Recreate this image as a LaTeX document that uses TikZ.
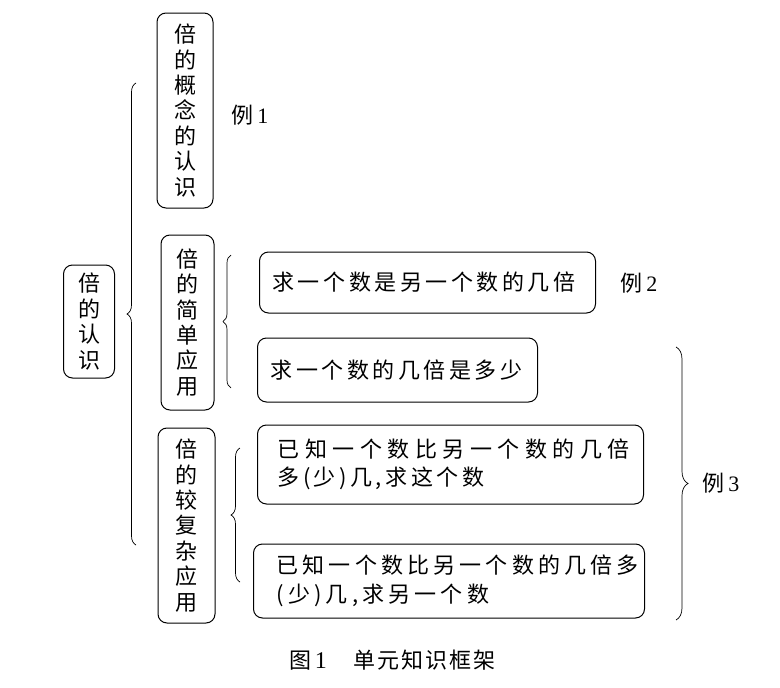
\documentclass[tikz,border=0pt]{standalone}
\usepackage{fontspec}
\setmainfont{Liberation Serif}
\newfontfamily\cjk{Noto Sans CJK SC}
\newfontfamily\cjks[LetterSpace=16]{Noto Sans CJK SC}
\newfontfamily\cjkv[LetterSpace=19]{Noto Sans CJK SC}
\newfontfamily\cjkw[LetterSpace=25]{Noto Sans CJK SC}
\newfontfamily\cjkc[LetterSpace=9]{Noto Sans CJK SC}
\usetikzlibrary{decorations.pathreplacing}
\begin{document}
\begin{tikzpicture}[x=1pt,y=-1pt,
  vbox/.style={draw, line width=1pt, rounded corners=9pt, inner sep=0pt, align=center,
    font=\fontsize{22}{25.4}\selectfont\cjk},
  hbox/.style={draw, line width=1pt, rounded corners=9pt, anchor=west, inner xsep=13pt, inner ysep=0pt, align=left,
    font=\fontsize{22}{28.5}\selectfont\cjks},
  lab/.style={font=\fontsize{22}{24}\selectfont\cjk, inner sep=0pt},
  brc/.style={decorate, decoration={brace, amplitude=#1}, line width=0.7pt}
]
\useasboundingbox (0,0) rectangle (780,688);

% main
\node[vbox, minimum width=51pt, minimum height=113pt] (main) at (89,321.5) {倍\\的\\认\\识};

% level 2
\node[vbox, minimum width=56pt, minimum height=195pt] (gn) at (185,110.5) {倍\\的\\概\\念\\的\\认\\识};
\node[vbox, minimum width=53pt, minimum height=175pt] (jd) at (187.5,322.5) {倍\\的\\简\\单\\应\\用};
\node[vbox, minimum width=57pt, minimum height=195pt] (fz) at (186.5,525.5) {倍\\的\\较\\复\\杂\\应\\用};

% level 3
\node[hbox, text width=310pt, minimum height=61pt] (q1) at (259,282.5) {求一个数是另一个数的几倍};
\node[hbox, text width=254pt, minimum height=64pt] (q2) at (257,370) {求一个数的几倍是多少};
\node[hbox, inner xsep=20pt, text width=346pt, minimum height=79pt] (q3) at (257,464.5) {{\cjkw 已知一个数比另一个数的几倍}\\多(少)几,求这个数};
\node[hbox, inner xsep=23pt, text width=345pt, minimum height=74pt, font=\fontsize{22}{28.5}\selectfont\cjkv] (q4) at (253,581) {已知一个数比另一个数的几倍多\\(少)几,求另一个数};

% labels
\node[lab] (e1) at (250,115) {例\,{\rmfamily 1}};
\node[lab] (e2) at (639,283) {例\,{\rmfamily 2}};
\node[lab] (e3) at (721,483) {例\,{\rmfamily 3}};

% braces
\coordinate (b1t) at (136,83);
\coordinate (b1b) at (136,545);
\draw[brc=9pt] (b1b) -- (b1t);
\coordinate (b2t) at (231,255);
\coordinate (b2b) at (231,388);
\draw[brc=8pt] (b2b) -- (b2t);
\coordinate (b3t) at (240,448);
\coordinate (b3b) at (240,582);
\draw[brc=9pt] (b3b) -- (b3t);
\coordinate (b4t) at (676,347);
\coordinate (b4b) at (676,620);
\draw[brc=12pt] (b4t) -- (b4b);

% caption
\node[font=\fontsize{22}{24}\selectfont\cjkc, inner sep=0pt, anchor=west] (cap) at (289,660) {图\,{\rmfamily\fontsize{24}{24}\selectfont 1}\hspace{1.2em}单元知识框架};
\end{tikzpicture}
\end{document}
